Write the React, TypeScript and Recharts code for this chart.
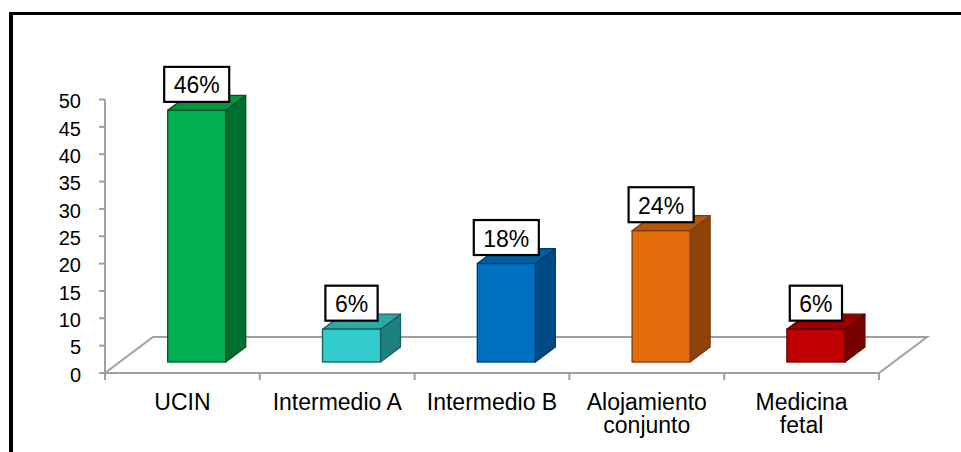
import React from 'react';
import { BarChart, Bar, XAxis, YAxis, ReferenceLine, LabelList } from 'recharts';

// Servicios y porcentaje de pacientes
const categoryLines: string[][] = [
  ['UCIN'],
  ['Intermedio A'],
  ['Intermedio B'],
  ['Alojamiento', 'conjunto'],
  ['Medicina', 'fetal'],
];
const categories = categoryLines.map((l) => l.join(' '));
const percentages = [46, 6, 18, 24, 6];
const yTicks = [0, 5, 10, 15, 20, 25, 30, 35, 40, 45, 50];

// front / top / side / edge per bar
const frontColors = ['#00B050', '#33CCCC', '#0070C0', '#E46C0A', '#C00000'];
const topColors = ['#00963F', '#2AA9A9', '#005FA3', '#B85608', '#990000'];
const sideColors = ['#006F30', '#1F8080', '#004A85', '#8F4306', '#780000'];
const edgeColors = ['#00532A', '#1A5F5F', '#003A6A', '#7A3A12', '#5E0000'];

const data = categories.map((name, i) => ({ name, value: percentages[i], idx: i }));

const FONT = "'Liberation Sans', Arial, sans-serif";

// floor perspective
const FLOOR_DX = 48;
const FLOOR_DY = 36;
// bars sit a bit back on the floor and have their own depth
const SHIFT_X = 14.7;
const SHIFT_Y = 11;
const DEPTH_X = 20;
const DEPTH_Y = 15;

const Floor = (props: any) => {
  const { x1, y1, x2 } = props;
  const n = categories.length;
  const step = (x2 - x1) / n;
  const pts = `${x1},${y1} ${x1 + FLOOR_DX},${y1 - FLOOR_DY} ${x2 + FLOOR_DX},${y1 - FLOOR_DY} ${x2},${y1}`;
  return (
    <g>
      <polygon points={pts} fill="none" stroke="#A0A0A0" strokeWidth={2} strokeLinejoin="miter" />
      {Array.from({ length: n + 1 }, (_, i) => (
        <line key={i} x1={x1 + i * step} y1={y1} x2={x1 + i * step} y2={y1 + 7} stroke="#A0A0A0" strokeWidth={2} />
      ))}
    </g>
  );
};

const Box3D = (props: any) => {
  const { x, y, width, height, index } = props;
  const i = props.payload?.idx ?? index;
  const fx = x + SHIFT_X;
  const fy = y - SHIFT_Y;
  const w = width;
  const h = height;
  const top = `${fx},${fy} ${fx + DEPTH_X},${fy - DEPTH_Y} ${fx + w + DEPTH_X},${fy - DEPTH_Y} ${fx + w},${fy}`;
  const side = `${fx + w},${fy} ${fx + w + DEPTH_X},${fy - DEPTH_Y} ${fx + w + DEPTH_X},${fy + h - DEPTH_Y} ${fx + w},${fy + h}`;
  return (
    <g>
      <polygon points={side} fill={sideColors[i]} stroke={edgeColors[i]} strokeWidth={1.3} strokeLinejoin="round" />
      <polygon points={top} fill={topColors[i]} stroke={edgeColors[i]} strokeWidth={1.3} strokeLinejoin="round" />
      <rect x={fx} y={fy} width={w} height={h} fill={frontColors[i]} stroke={edgeColors[i]} strokeWidth={1.3} />
    </g>
  );
};

// rough Arial advance widths
const textWidth = (s: string, size: number) =>
  s.split('').reduce((acc, c) => acc + (c === '%' ? 0.889 : 0.556), 0) * size;

const PctLabel = (props: any) => {
  const vb = props.viewBox ?? props;
  const x = vb.x ?? props.x;
  const y = vb.y ?? props.y;
  const width = vb.width ?? props.width;
  const text = `${props.value}%`;
  const fs = 23;
  const bw = textWidth(text, fs) + 19;
  const bh = 35;
  const cx = x + width / 2 + SHIFT_X;
  const cy = y - SHIFT_Y - 26;
  return (
    <g>
      <rect x={cx - bw / 2} y={cy - bh / 2} width={bw} height={bh} fill="#fff" stroke="#000" strokeWidth={2.2} />
      <text x={cx} y={cy + 9} textAnchor="middle" fontSize={fs} fontFamily={FONT} fill="#000">
        {text}
      </text>
    </g>
  );
};

const YTick = (props: any) => {
  const { x, y, payload } = props;
  return (
    <text x={x} y={y + 8.7} textAnchor="end" fontSize={20} fontFamily={FONT} fill="#000">
      {payload.value}
    </text>
  );
};

const XTick = (props: any) => {
  const { x, y, index } = props;
  const lines = categoryLines[index] ?? [props.payload.value];
  return (
    <text x={x} y={y + 36.5} textAnchor="middle" fontSize={23} fontFamily={FONT} fill="#000">
      {lines.map((l, k) => (
        <tspan key={k} x={x} dy={k === 0 ? 0 : 23.5}>
          {l}
        </tspan>
      ))}
    </text>
  );
};

export default function App() {
  return (
    <div
      style={{
        position: 'absolute',
        left: 0,
        top: 0,
        width: 961,
        height: 452,
        overflow: 'hidden',
        background: '#fff',
      }}
    >
      <div
        style={{
          position: 'absolute',
          left: 9,
          top: 12,
          width: 980,
          height: 470,
          borderLeft: '4px solid #000',
          borderTop: '3px solid #000',
        }}
      />
      <div style={{ position: 'absolute', left: 0, top: 0 }}>
        <BarChart
          width={961}
          height={452}
          data={data}
          margin={{ top: 99.5, right: 82, left: 45, bottom: 0 }}
          barSize={58}
        >
          <ReferenceLine y={0} shape={Floor} stroke="#A0A0A0" zIndex={-1} />
          <XAxis
            dataKey="name"
            axisLine={false}
            tickLine={false}
            tickSize={0}
            tickMargin={0}
            height={79}
            interval={0}
            tick={XTick}
          />
          <YAxis
            domain={[0, 50]}
            ticks={yTicks}
            width={60}
            tickSize={6}
            tickMargin={18}
            interval={0}
            axisLine={{ stroke: '#A0A0A0', strokeWidth: 2 }}
            tickLine={{ stroke: '#A0A0A0', strokeWidth: 2 }}
            tick={YTick}
          />
          <Bar dataKey="value" shape={Box3D} isAnimationActive={false}>
            <LabelList dataKey="value" content={PctLabel} />
          </Bar>
        </BarChart>
      </div>
    </div>
  );
}
